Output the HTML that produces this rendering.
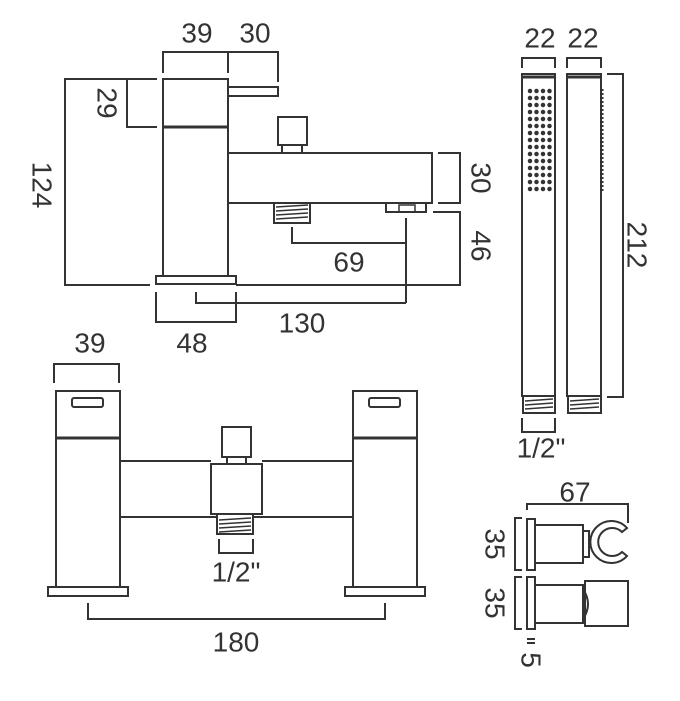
<!DOCTYPE html>
<html><head><meta charset="utf-8"><style>
html,body{margin:0;padding:0;background:#fff;}
svg{display:block;}
text{font-family:"Liberation Sans",sans-serif;font-size:28px;fill:#333;text-anchor:middle;dominant-baseline:central;}
</style></head><body>
<svg width="680" height="701" viewBox="0 0 680 701" xmlns="http://www.w3.org/2000/svg">
<g fill="none" stroke="#333" stroke-width="2">
<polyline points="163,73 163,52 278,52 278,82"/>
<line x1="228" y1="52" x2="228" y2="73"/>
<rect x="163" y="79" width="65" height="197"/>
<line x1="163" y1="127" x2="228" y2="127" stroke-width="3"/>
<rect x="228" y="87" width="50" height="9"/>
<polyline points="157,79 127,79 127,127 157,127"/>
<polyline points="157,79 65,79 65,285 150,285"/>
<rect x="156" y="276" width="80" height="8"/>
<rect x="228" y="153" width="204" height="50"/>
<rect x="278" y="117" width="29" height="28"/>
<rect x="282" y="145" width="20" height="8"/>
<rect x="274" y="203" width="36" height="20"/>
<path d="M276 207 L308 205 M276 211 L308 209 M276 215 L308 213 M276 219 L308 217" stroke-width="1.5"/>
<rect x="386" y="203" width="40" height="9"/>
<rect x="399" y="205" width="16" height="7" stroke-width="1.5"/>
<polyline points="438,153 460,153 460,203 438,203"/>
<polyline points="433,212 460,212 460,285 236,285"/>
<polyline points="292,227 292,243 406,243"/>
<line x1="406" y1="218" x2="406" y2="303"/>
<polyline points="196,292 196,303 406,303"/>
<polyline points="156,292 156,322 236,322 236,292"/>
<polyline points="54,383 54,364 119,364 119,383"/>
<rect x="56" y="391" width="64" height="196"/>
<line x1="56" y1="438" x2="120" y2="438" stroke-width="3"/>
<rect x="72" y="398" width="31" height="9" rx="2"/>
<rect x="48" y="587" width="80" height="9"/>
<rect x="353" y="391" width="64" height="196"/>
<line x1="353" y1="438" x2="417" y2="438" stroke-width="3"/>
<rect x="369" y="398" width="31" height="9" rx="2"/>
<rect x="345" y="587" width="80" height="9"/>
<line x1="120" y1="461" x2="211" y2="461"/>
<line x1="262" y1="461" x2="353" y2="461"/>
<line x1="120" y1="517" x2="217" y2="517"/>
<line x1="253" y1="517" x2="353" y2="517"/>
<rect x="211" y="464" width="51" height="50"/>
<rect x="222" y="427" width="29" height="30"/>
<rect x="227" y="457" width="19" height="7"/>
<rect x="217" y="514" width="36" height="20"/>
<path d="M219 520 L251 518 M219 524 L251 522 M219 528 L251 526 M219 532 L251 530" stroke-width="1.5"/>
<polyline points="219,539 219,553 253,553 253,539"/>
<polyline points="88,603 88,619 385,619 385,603"/>
<polyline points="522,68 522,58 555,58 555,68"/>
<polyline points="567,68 567,58 601,58 601,68"/>
<rect x="522" y="74" width="33" height="322"/>
<line x1="522" y1="77" x2="555" y2="77" stroke-width="3"/>
<rect x="567" y="74" width="34" height="322"/>
<line x1="567" y1="77" x2="601" y2="77" stroke-width="3"/>
<rect x="523" y="396" width="32" height="17"/>
<path d="M525 401 L553 399 M525 405 L553 403 M525 409 L553 407" stroke-width="1.5"/>
<rect x="568" y="396" width="33" height="17"/>
<path d="M570 401 L599 399 M570 405 L599 403 M570 409 L599 407" stroke-width="1.5"/>
<line x1="602" y1="89" x2="602" y2="193" stroke-width="3" stroke-dasharray="2,2"/>
<polyline points="607,74 623,74 623,397 607,397"/>
<polyline points="522,418 522,432 555,432 555,418"/>
<polyline points="527,510 527,504 628,504 628,523"/>
<rect x="527" y="519" width="8" height="51"/>
<rect x="535" y="525" width="48" height="38"/>
<rect x="583" y="531" width="6" height="26"/>
<path d="M627 528 A21 21 0 1 0 627 556 L622 552 A14 14 0 1 1 622 532 Z"/>
<polyline points="522,518 515,518 515,570 522,570"/>
<rect x="527" y="577" width="8" height="52"/>
<rect x="535" y="585" width="48" height="38"/>
<rect x="585" y="581" width="43" height="45"/>
<path d="M583 589 Q593 604 583 619"/>
<polyline points="522,577 515,577 515,629 522,629"/>
<line x1="527" y1="639" x2="535" y2="639"/>
<line x1="527" y1="643" x2="535" y2="643"/>
</g>
<path d="M530 91h20M530 98h20M530 105h20M530 112h20M530 119h20M530 126h20M530 133h20M530 140h20M530 147h20M530 154h20M530 161h20M530 168h20M530 175h20M530 182h20M530 189h20" fill="none" stroke="#333" stroke-width="4.5" stroke-dasharray="0,6.5" stroke-linecap="round"/>
<g fill="#333">
<text x="197" y="33">39</text>
<text x="255" y="33">30</text>
<text transform="translate(107,103) rotate(90)">29</text>
<text transform="translate(42,185) rotate(90)">124</text>
<text transform="translate(481,178) rotate(90)">30</text>
<text transform="translate(481,246) rotate(90)">46</text>
<text x="349" y="262">69</text>
<text x="302" y="323">130</text>
<text x="192" y="343">48</text>
<text x="90" y="343">39</text>
<text x="236" y="572">1/2"</text>
<text x="236" y="642">180</text>
<text x="540" y="38">22</text>
<text x="583" y="38">22</text>
<text transform="translate(637,245) rotate(90)">212</text>
<text x="541" y="448">1/2"</text>
<text x="575" y="492">67</text>
<text transform="translate(495,544) rotate(90)">35</text>
<text transform="translate(495,603) rotate(90)">35</text>
<text transform="translate(531,660) rotate(90)">5</text>
</g>
</svg>
</body></html>
